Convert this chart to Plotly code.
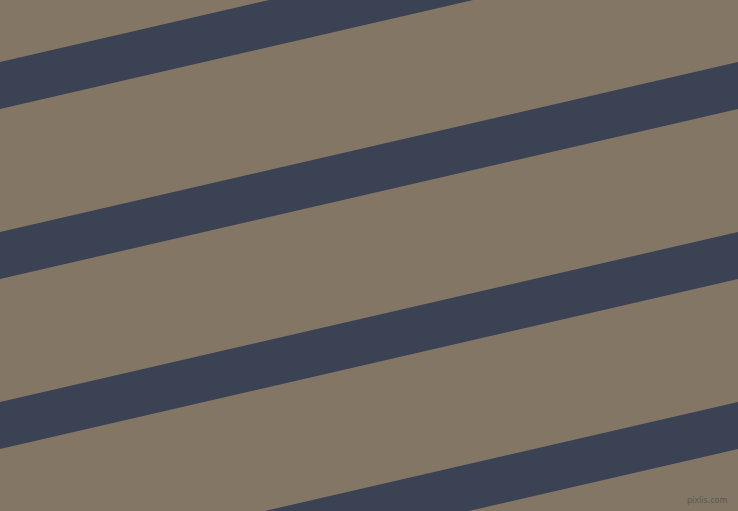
import plotly.graph_objects as go

# canvas and stripe description (pixels, y measured from the top)
width = 738
height = 511
stripe_tops_left = [62, 232, 402, 572]   # top edge of each stripe at x=0
stripe_thickness = 47                   # vertical thickness
stripe_drop = -170                      # change of y from x=0 to x=width

background_color = "#837665"
stripe_color = "#3a4254"

fig = go.Figure()

for top in stripe_tops_left:
    xs = [0, width, width, 0, 0]
    ys = [top, top + stripe_drop,
          top + stripe_drop + stripe_thickness, top + stripe_thickness, top]
    fig.add_trace(go.Scatter(
        x=xs, y=ys, mode="lines", fill="toself",
        fillcolor=stripe_color, line=dict(width=0, color=stripe_color),
        hoverinfo="skip", showlegend=False,
    ))

fig.add_annotation(
    x=width - 9, y=height - 11, xref="x", yref="y",
    text="pixlis.com", showarrow=False, xanchor="right", yanchor="middle",
    font=dict(family="DejaVu Sans", size=8, color="#585858"),
)

fig.update_xaxes(range=[0, width], visible=False, fixedrange=True)
fig.update_yaxes(range=[height, 0], visible=False, fixedrange=True)
fig.update_layout(
    width=width, height=height,
    margin=dict(l=0, r=0, t=0, b=0),
    paper_bgcolor=background_color,
    plot_bgcolor=background_color,
)

# drop the browser's default page margin so the figure fills the window
fig.write_html(
    "out.html",
    config={"displayModeBar": False},
    post_script="document.body.style.margin='0';document.body.style.overflow='hidden';",
)
